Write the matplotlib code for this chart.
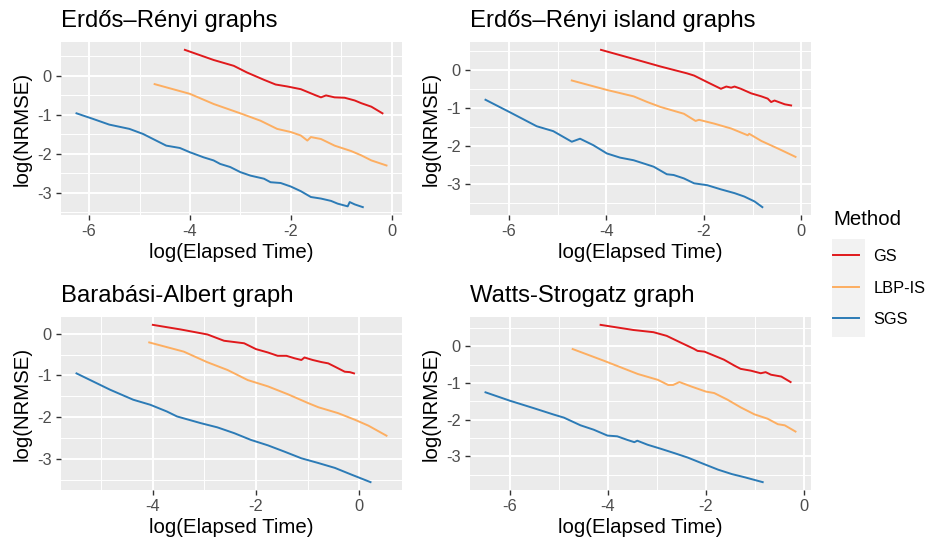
import matplotlib
matplotlib.use("Agg")
import matplotlib.pyplot as plt
from matplotlib.ticker import MultipleLocator
from matplotlib.patches import Rectangle

plt.rcParams['font.family'] = ['Liberation Sans', 'DejaVu Sans']

methods = ['GS', 'LBP-IS', 'SGS']
colors = {'GS': '#E0191C', 'LBP-IS': '#FDAE61', 'SGS': '#2C7BB6'}

titles = ['Erdős–Rényi graphs', 'Erdős–Rényi island graphs',
          'Barabási-Albert graph', 'Watts-Strogatz graph']

# Erdős–Rényi graphs
er_gs_x = [-4.10, -3.53, -3.13, -2.87, -2.53, -2.30, -2.07, -1.80, -1.65, -1.50, -1.40, -1.30, -1.13, -0.93, -0.73, -0.60, -0.40, -0.18]
er_gs_y = [0.67, 0.41, 0.26, 0.09, -0.10, -0.22, -0.27, -0.34, -0.42, -0.50, -0.55, -0.50, -0.55, -0.56, -0.63, -0.70, -0.79, -0.96]
er_lbp_x = [-4.70, -4.00, -3.53, -3.00, -2.60, -2.27, -2.00, -1.80, -1.67, -1.60, -1.40, -1.13, -0.80, -0.60, -0.40, -0.10]
er_lbp_y = [-0.21, -0.46, -0.72, -0.96, -1.15, -1.36, -1.44, -1.53, -1.66, -1.57, -1.62, -1.79, -1.93, -2.04, -2.17, -2.30]
er_sgs_x = [-6.25, -5.93, -5.60, -5.20, -4.93, -4.67, -4.47, -4.20, -4.00, -3.73, -3.53, -3.40, -3.20, -3.00, -2.80, -2.53, -2.40, -2.20, -2.00, -1.80, -1.60, -1.40, -1.20, -1.07, -0.87, -0.83, -0.73, -0.57]
er_sgs_y = [-0.96, -1.10, -1.25, -1.36, -1.49, -1.66, -1.79, -1.85, -1.96, -2.09, -2.17, -2.26, -2.34, -2.47, -2.56, -2.64, -2.73, -2.75, -2.84, -2.96, -3.11, -3.15, -3.21, -3.28, -3.35, -3.24, -3.30, -3.37]

# Erdős–Rényi island graphs
eri_gs_x = [-4.11, -3.44, -2.89, -2.62, -2.35, -2.20, -1.92, -1.65, -1.54, -1.44, -1.37, -1.24, -1.03, -0.82, -0.69, -0.62, -0.55, -0.34, -0.21]
eri_gs_y = [0.54, 0.30, 0.10, 0.01, -0.08, -0.14, -0.32, -0.49, -0.43, -0.46, -0.43, -0.49, -0.61, -0.69, -0.75, -0.84, -0.80, -0.90, -0.93]
eri_lbp_x = [-4.71, -3.99, -3.44, -3.16, -2.89, -2.41, -2.17, -2.10, -1.79, -1.44, -1.10, -1.07, -0.82, -0.48, -0.12]
eri_lbp_y = [-0.27, -0.52, -0.69, -0.84, -0.97, -1.15, -1.34, -1.31, -1.41, -1.54, -1.72, -1.68, -1.87, -2.07, -2.29]
eri_sgs_x = [-6.48, -5.98, -5.43, -5.09, -4.71, -4.54, -4.27, -3.99, -3.72, -3.44, -3.03, -2.76, -2.62, -2.41, -2.20, -1.93, -1.65, -1.37, -1.17, -0.96, -0.80]
eri_sgs_y = [-0.78, -1.11, -1.48, -1.61, -1.89, -1.81, -1.98, -2.20, -2.31, -2.38, -2.55, -2.75, -2.77, -2.86, -2.99, -3.04, -3.15, -3.25, -3.34, -3.47, -3.62]

# Barabási-Albert graph
ba_gs_x = [-4.00, -3.46, -2.94, -2.62, -2.23, -2.00, -1.77, -1.58, -1.41, -1.25, -1.12, -1.06, -0.90, -0.73, -0.60, -0.47, -0.28, -0.18, -0.10]
ba_gs_y = [0.21, 0.10, -0.02, -0.17, -0.23, -0.37, -0.45, -0.53, -0.53, -0.59, -0.63, -0.57, -0.63, -0.68, -0.71, -0.79, -0.91, -0.92, -0.95]
ba_lbp_x = [-4.07, -3.40, -2.95, -2.55, -2.16, -1.77, -1.38, -0.99, -0.79, -0.41, -0.08, 0.18, 0.53]
ba_lbp_y = [-0.21, -0.43, -0.68, -0.87, -1.11, -1.26, -1.45, -1.66, -1.76, -1.90, -2.06, -2.20, -2.44]
ba_sgs_x = [-5.48, -4.83, -4.38, -4.05, -3.73, -3.53, -3.07, -2.75, -2.42, -2.10, -1.77, -1.45, -1.12, -0.80, -0.47, -0.15, 0.22]
ba_sgs_y = [-0.95, -1.34, -1.58, -1.70, -1.86, -1.98, -2.14, -2.24, -2.38, -2.54, -2.67, -2.82, -2.98, -3.09, -3.21, -3.37, -3.55]

# Watts-Strogatz graph
ws_gs_x = [-4.15, -3.48, -3.07, -2.80, -2.52, -2.25, -2.17, -2.03, -1.83, -1.63, -1.42, -1.29, -1.08, -0.88, -0.78, -0.67, -0.46, -0.27]
ws_gs_y = [0.59, 0.45, 0.39, 0.29, 0.11, -0.06, -0.12, -0.14, -0.25, -0.36, -0.52, -0.61, -0.66, -0.73, -0.70, -0.77, -0.82, -0.97]
ws_lbp_x = [-4.72, -4.08, -3.39, -2.98, -2.77, -2.67, -2.54, -2.30, -2.00, -1.83, -1.56, -1.29, -1.01, -0.74, -0.53, -0.39, -0.17]
ws_lbp_y = [-0.07, -0.39, -0.75, -0.91, -1.05, -1.05, -0.97, -1.09, -1.23, -1.27, -1.45, -1.66, -1.85, -1.97, -2.12, -2.15, -2.32]
ws_sgs_x = [-6.50, -6.00, -5.52, -5.10, -4.90, -4.56, -4.29, -4.01, -3.81, -3.60, -3.46, -3.40, -3.19, -2.92, -2.64, -2.37, -2.09, -1.75, -1.47, -1.20, -0.84]
ws_sgs_y = [-1.25, -1.48, -1.68, -1.86, -1.94, -2.15, -2.27, -2.43, -2.45, -2.55, -2.61, -2.57, -2.68, -2.79, -2.91, -3.03, -3.18, -3.36, -3.48, -3.57, -3.70]

panels = [
    {'GS': (er_gs_x, er_gs_y), 'LBP-IS': (er_lbp_x, er_lbp_y), 'SGS': (er_sgs_x, er_sgs_y)},
    {'GS': (eri_gs_x, eri_gs_y), 'LBP-IS': (eri_lbp_x, eri_lbp_y), 'SGS': (eri_sgs_x, eri_sgs_y)},
    {'GS': (ba_gs_x, ba_gs_y), 'LBP-IS': (ba_lbp_x, ba_lbp_y), 'SGS': (ba_sgs_x, ba_sgs_y)},
    {'GS': (ws_gs_x, ws_gs_y), 'LBP-IS': (ws_lbp_x, ws_lbp_y), 'SGS': (ws_sgs_x, ws_sgs_y)},
]

W, H = 929, 542
fig = plt.figure(figsize=(W / 100, H / 100), dpi=100)

# panel rectangles in pixels: left, top, right, bottom
boxes = [(61, 42, 402, 215), (470, 42, 811, 215),
         (61, 317, 402, 490), (470, 317, 811, 490)]

handles = {}
for box, title, data in zip(boxes, titles, panels):
    l, t, r, b = box
    ax = fig.add_axes([l / W, 1 - b / H, (r - l) / W, (b - t) / H])
    ax.set_facecolor('#EBEBEB')
    for m in methods:
        x, y = data[m]
        line, = ax.plot(x, y, color=colors[m], lw=1.4, label=m, zorder=3)
        handles[m] = line
    ax.margins(0.05)
    ax.xaxis.set_major_locator(MultipleLocator(2))
    ax.xaxis.set_minor_locator(MultipleLocator(1))
    ax.yaxis.set_major_locator(MultipleLocator(1))
    ax.yaxis.set_minor_locator(MultipleLocator(0.5))
    ax.grid(which='major', color='white', lw=1.4)
    ax.grid(which='minor', color='white', lw=0.7)
    ax.set_axisbelow(True)
    for s in ax.spines.values():
        s.set_visible(False)
    ax.tick_params(which='major', length=3.7, width=1.0, color='#333333',
                   labelcolor='#4D4D4D', labelsize=11.8, pad=3)
    ax.tick_params(which='minor', length=0)
    ax.set_xticklabels([f'{v:g}' for v in ax.get_xticks()])
    ax.set_yticklabels([f'{v:g}' for v in ax.get_yticks()])
    ax.set_xlabel('log(Elapsed Time)', fontsize=14.7, labelpad=3)
    ax.set_ylabel('log(NRMSE)', fontsize=14.7, labelpad=3.5)
    ax.set_title(title, loc='left', fontsize=17.2, pad=11)

# legend key background
fig.patches.append(Rectangle((832 / W, 1 - 337 / H), 33 / W, 98 / H,
                             transform=fig.transFigure, facecolor='#F2F2F2',
                             edgecolor='none', zorder=0))
leg = fig.legend([handles[m] for m in methods], methods, title='Method',
                 loc='upper left', bbox_to_anchor=(833 / W, 1 - 210 / H),
                 frameon=False, fontsize=11.8, title_fontsize=14.7,
                 borderpad=0, borderaxespad=0,
                 handlelength=1.6, labelspacing=1.0, handletextpad=0.85,
                 alignment='left')
leg._legend_box.sep = 14.5

fig.savefig('out.png', dpi=100)
